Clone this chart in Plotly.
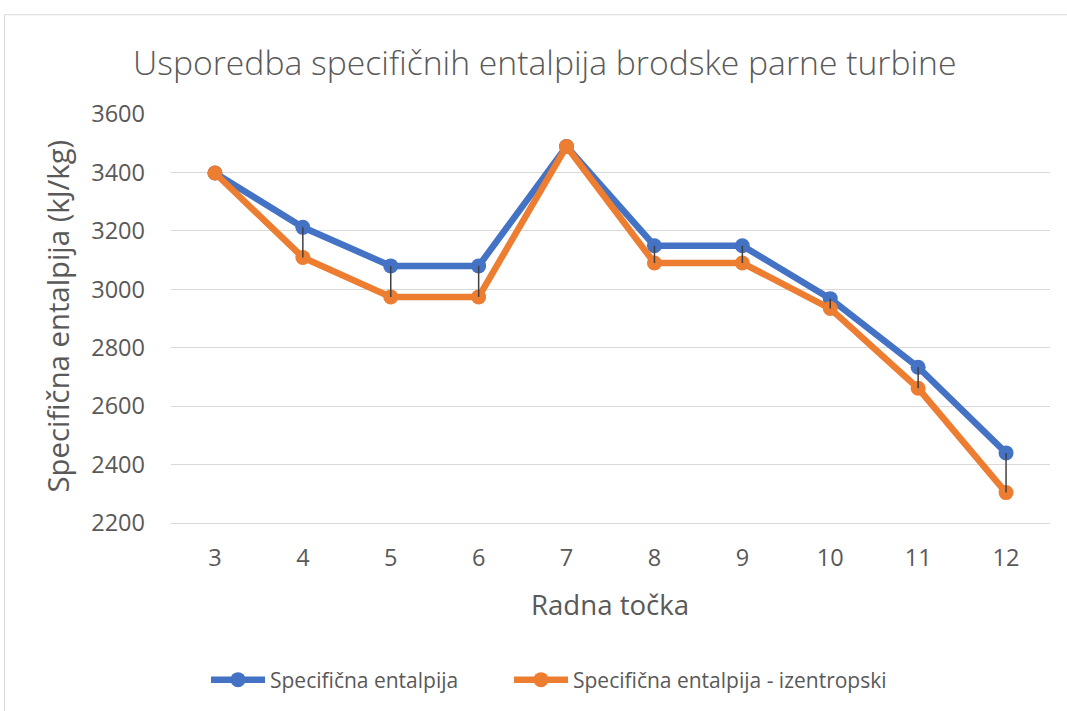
import plotly.graph_objects as go

categories = ["3", "4", "5", "6", "7", "8", "9", "10", "11", "12"]
h_real = [3398, 3212, 3080, 3080, 3489, 3149, 3149, 2968, 2733, 2440]
h_isen = [3398, 3109, 2974, 2974, 3489, 3090, 3090, 2934, 2661, 2304]
y_ticks = [2200, 2400, 2600, 2800, 3000, 3200, 3400, 3600]

title_text = "Usporedba specifičnih entalpija brodske parne turbine"
y_title = "Specifična entalpija (kJ/kg)"
x_title = "Radna točka"
name_real = "Specifična entalpija"
name_isen = "Specifična entalpija - izentropski"

BLUE = "#4472C4"
ORANGE = "#ED7D31"
TXT = "#595959"
GRID = "#D9D9D9"
FONT = "Open Sans"

# high-low lines between the two series
hl_x, hl_y = [], []
for c, a, b in zip(categories, h_real, h_isen):
    hl_x += [c, c, None]
    hl_y += [a, b, None]

fig = go.Figure()
fig.add_trace(go.Scatter(x=categories, y=h_real, name=name_real, mode="lines+markers",
                         line=dict(color=BLUE, width=6.5), marker=dict(color=BLUE, size=15),
                         legend="legend"))
fig.add_trace(go.Scatter(x=categories, y=h_isen, name=name_isen, mode="lines+markers",
                         line=dict(color=ORANGE, width=6.5), marker=dict(color=ORANGE, size=15),
                         legend="legend2"))
fig.add_trace(go.Scatter(x=hl_x, y=hl_y, mode="lines", showlegend=False, hoverinfo="skip",
                         line=dict(color="#404040", width=1.5)))

L, R, T, B = 171, 1050, 114, 524
W, H = 1067, 711
pw, ph = R - L, B - T

def px(x):
    return (x - L) / pw

def py(y):
    return (B - y) / ph

leg_common = dict(orientation="h", yanchor="middle", y=py(680), xanchor="left",
                  font=dict(size=21, color=TXT), itemwidth=54,
                  bgcolor="rgba(0,0,0,0)", borderwidth=0)

fig.update_layout(
    width=W, height=H, autosize=False,
    margin=dict(l=L, r=W - R, t=T, b=H - B, pad=0),
    paper_bgcolor="white", plot_bgcolor="white",
    font=dict(family=FONT, color=TXT),
    showlegend=True,
    legend=dict(x=px(206), **leg_common),
    legend2=dict(x=px(509), **leg_common),
    xaxis=dict(type="category", range=[-0.5, 9.5], showgrid=False, showline=True,
               linecolor=GRID, linewidth=1, ticks="", tickfont=dict(size=23.5, color=TXT),
               ticklabelstandoff=14),
    yaxis=dict(range=[2200, 3600], tickvals=y_ticks, showgrid=True, gridcolor=GRID,
               gridwidth=1, zeroline=False, showline=False, ticks="",
               tickfont=dict(size=23.5, color=TXT), ticklabelstandoff=25),
    shapes=[dict(type="rect", xref="paper", yref="paper", x0=px(4.5), x1=px(1090),
                 y0=py(740), y1=py(14.5), line=dict(color=GRID, width=1), layer="below")],
    annotations=[
        dict(text=title_text, xref="paper", yref="paper", x=px(545), y=py(62),
             xanchor="center", yanchor="middle", showarrow=False,
             font=dict(size=33.7, color=TXT, family=FONT, weight=300)),
        dict(text=y_title, xref="paper", yref="paper", x=px(58), y=py(317),
             xanchor="center", yanchor="middle", showarrow=False, textangle=-90,
             font=dict(size=29.3, color=TXT, family=FONT)),
        dict(text=x_title, xref="paper", yref="paper", x=px(610), y=py(605),
             xanchor="center", yanchor="middle", showarrow=False,
             font=dict(size=27.6, color=TXT, family=FONT)),
    ],
)

fig.write_html("out.html", config={"displayModeBar": False},
               post_script="document.body.style.margin='0px';")
